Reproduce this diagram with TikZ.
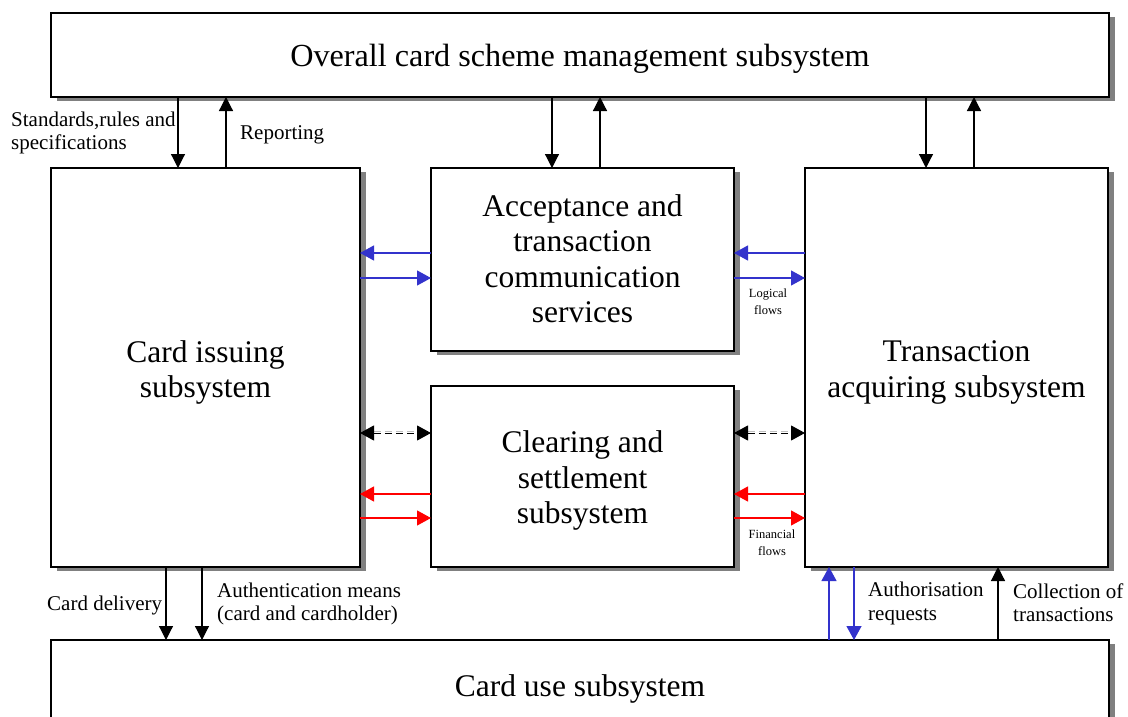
\documentclass[tikz,border=0pt]{standalone}
\usepackage{fontspec}
\setmainfont{Liberation Serif}
\usetikzlibrary{arrows.meta,shadows,calc}
\definecolor{flowblue}{RGB}{51,51,204}
\definecolor{flowred}{RGB}{255,0,0}
\definecolor{shadowgray}{RGB}{128,128,128}

\begin{document}
\begin{tikzpicture}[x=1pt,y=-1pt,
  sysbox/.style={draw=black, line width=1.4pt, fill=white, inner sep=0pt, outer sep=0pt,
    drop shadow={shadow xshift=6pt, shadow yshift=-4pt, opacity=1, fill=shadowgray}},
  boxtext/.style={align=center, inner sep=0pt, font=\fontsize{31.5}{35.5}\selectfont},
  titletext/.style={inner sep=0pt, font=\fontsize{32.2}{36}\selectfont},
  arrowblk/.style={draw=black, line width=1.2pt, -{Triangle[length=14pt,width=14pt]}},
  arrowblue/.style={draw=flowblue, line width=1.2pt, -{Triangle[length=14pt,width=15pt]}},
  arrowred/.style={draw=flowred, line width=1.2pt, -{Triangle[length=14pt,width=15pt]}},
  dashpair/.style={draw=black, line width=1pt, dash pattern=on 7pt off 4pt,
    {Triangle[length=14pt,width=15pt]}-{Triangle[length=14pt,width=15pt]}},
  dashghost/.style={draw=black!25, line width=0.8pt, dash pattern=on 7pt off 4pt},
  lbl/.style={font=\fontsize{21}{23.5}\selectfont, align=left, inner sep=0pt},
  tinylbl/.style={font=\fontsize{12.5}{17}\selectfont, align=center, inner sep=0pt}]

\clip (0,0) rectangle (1128,717);
\fill[white] (0,0) rectangle (1128,717);

% subsystem frames
\node[sysbox, minimum width=1058pt, minimum height=84pt] (top) at (580,55) {};
\node[sysbox, minimum width=309pt, minimum height=399pt] (issue) at (205.5,367.5) {};
\node[sysbox, minimum width=303pt, minimum height=183pt] (accept) at (582.5,259.5) {};
\node[sysbox, minimum width=303pt, minimum height=181pt] (clear) at (582.5,476.5) {};
\node[sysbox, minimum width=303pt, minimum height=399pt] (trans) at (956.5,367.5) {};
\node[sysbox, minimum width=1058pt, minimum height=92pt] (use) at (580,686) {};

% subsystem names
\node[titletext] (ttop) at ($(top.center)+(0,4)$) {Overall card scheme management subsystem};
\node[boxtext] (tissue) at ($(issue.center)+(0,5)$) {Card issuing\\subsystem};
\node[boxtext] (taccept) at ($(accept.center)+(0,-1)$) {Acceptance and\\transaction\\communication\\services};
\node[boxtext] (tclear) at ($(clear.center)+(0,4)$) {Clearing and\\settlement\\subsystem};
\node[boxtext] (ttrans) at ($(trans.center)+(0,5)$) {Transaction\\acquiring subsystem};
\node[boxtext] (tuse) at ($(use.center)+(0,3)$) {Card use subsystem};

% positions of the vertical connectors
\coordinate (a1) at (178,0);
\coordinate (a2) at (226,0);
\coordinate (a3) at (552,0);
\coordinate (a4) at (600,0);
\coordinate (a5) at (926,0);
\coordinate (a6) at (974,0);
\coordinate (b1) at (166,0);
\coordinate (b2) at (202,0);
\coordinate (b3) at (829,0);
\coordinate (b4) at (854,0);
\coordinate (b5) at (998,0);
% positions of the horizontal connectors
\coordinate (h1) at (0,253);
\coordinate (h2) at (0,278);
\coordinate (h3) at (0,433);
\coordinate (h4) at (0,494);
\coordinate (h5) at (0,518);

% management <-> subsystems
\draw[arrowblk] (top.south -| a1) -- (issue.north -| a1);
\draw[arrowblk] (issue.north -| a2) -- (top.south -| a2);
\draw[arrowblk] (top.south -| a3) -- (accept.north -| a3);
\draw[arrowblk] (accept.north -| a4) -- (top.south -| a4);
\draw[arrowblk] (top.south -| a5) -- (trans.north -| a5);
\draw[arrowblk] (trans.north -| a6) -- (top.south -| a6);

% logical flows
\draw[arrowblue] (accept.west |- h1) -- (issue.east |- h1);
\draw[arrowblue] (issue.east |- h2) -- (accept.west |- h2);
\draw[arrowblue] (trans.west |- h1) -- (accept.east |- h1);
\draw[arrowblue] (accept.east |- h2) -- (trans.west |- h2);

% dashed two-way links
\draw[dashghost] ($(issue.east |- h3)+(14,-2)$) -- ($(clear.west |- h3)+(-14,-2)$);
\draw[dashpair] (issue.east |- h3) -- (clear.west |- h3);
\draw[dashghost] ($(clear.east |- h3)+(14,-2)$) -- ($(trans.west |- h3)+(-14,-2)$);
\draw[dashpair] (clear.east |- h3) -- (trans.west |- h3);

% financial flows
\draw[arrowred] (clear.west |- h4) -- (issue.east |- h4);
\draw[arrowred] (issue.east |- h5) -- (clear.west |- h5);
\draw[arrowred] (trans.west |- h4) -- (clear.east |- h4);
\draw[arrowred] (clear.east |- h5) -- (trans.west |- h5);

% subsystems <-> card use
\draw[arrowblk] (issue.south -| b1) -- (use.north -| b1);
\draw[arrowblk] (issue.south -| b2) -- (use.north -| b2);
\draw[arrowblue] (use.north -| b3) -- (trans.south -| b3);
\draw[arrowblue] (trans.south -| b4) -- (use.north -| b4);
\draw[arrowblk] (use.north -| b5) -- (trans.south -| b5);

% connector labels
\node[lbl, anchor=west] (lstd) at (11,133) {Standards,rules and\\specifications};
\node[lbl, anchor=west] (lrep) at (240,135) {Reporting};
\node[lbl, anchor=west] (ldel) at (47,605.5) {Card delivery};
\node[lbl, anchor=west] (laut) at (217,604) {Authentication means\\(card and cardholder)};
\node[lbl, anchor=west] (lreq) at (868,603.5) {Authorisation\\requests};
\node[lbl, anchor=west] (lcol) at (1013,602.5) {Collection of\\transactions};
\node[tinylbl] (llog) at (768,301.5) {Logical\\flows};
\node[tinylbl] (lfin) at (772,543) {Financial\\flows};
\end{tikzpicture}
\end{document}
